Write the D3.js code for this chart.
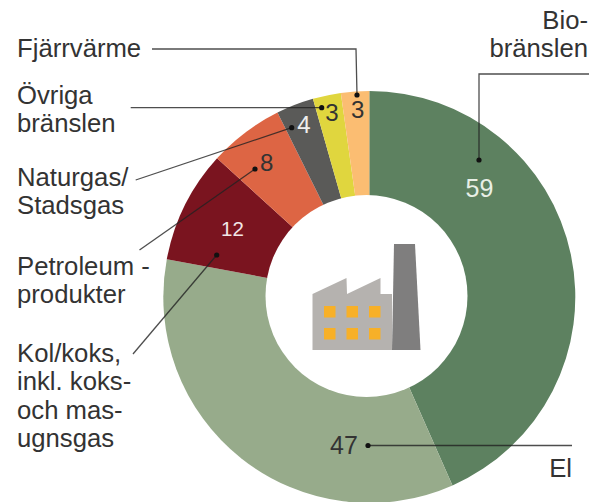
<!DOCTYPE html>
<html>
<head>
<meta charset="utf-8">
<script src="https://cdn.jsdelivr.net/npm/d3@7"></script>
<style>
  html, body { margin: 0; padding: 0; background: #fff; }
  text { font-family: "Liberation Sans", Arial, sans-serif; }
</style>
</head>
<body>
<div id="chart"></div>
<script>
// Values, clockwise from twelve o'clock
const categories = ["Biobränslen", "El", "Kol/koks", "Petroleumprodukter", "Naturgas/Stadsgas", "Övriga bränslen", "Fjärrvärme"];
const values = [59, 47, 12, 8, 4, 3, 3];
const sliceColors = ["#5d8160", "#97ab8b", "#7a141f", "#dd6544", "#5a5a58", "#e0d63e", "#fbbd72"];

// Category text blocks: lines and where they start
const labelLines = [
  { lines: ["Bio-", "bränslen"], x: 588, y: 29, anchor: "end" },
  { lines: ["El"], x: 572, y: 477, anchor: "end" },
  { lines: ["Kol/koks,", "inkl. koks-", "och mas-", "ugnsgas"], x: 17, y: 362, anchor: "start" },
  { lines: ["Petroleum -", "produkter"], x: 17, y: 275, anchor: "start" },
  { lines: ["Naturgas/", "Stadsgas"], x: 17, y: 186, anchor: "start" },
  { lines: ["Övriga", "bränslen"], x: 17, y: 104, anchor: "start" },
  { lines: ["Fjärrvärme"], x: 17, y: 57, anchor: "start" },
];

// Number labels on the ring
const valueLabels = [
  { x: 479.5, y: 197, fill: "#e8efe6", size: 25 },
  { x: 344, y: 454, fill: "#333", size: 25 },
  { x: 232.5, y: 236, fill: "#f2e6e6", size: 20.5 },
  { x: 266.7, y: 171, fill: "#333", size: 24 },
  { x: 304, y: 133, fill: "#eee", size: 24 },
  { x: 332, y: 121, fill: "#333", size: 24 },
  { x: 357.7, y: 118, fill: "#333", size: 24 },
];

// Leader lines, each ends on the dot
const leaders = [
  [[589, 74], [479, 74], [479, 160]],
  [[572, 445.5], [368, 445.5]],
  [[133, 354], [216.7, 255]],
  [[139.5, 250], [255, 169]],
  [[135.7, 180], [291.7, 127.7]],
  [[130.7, 107.7], [321.7, 107.7]],
  [[152, 49], [356, 49], [357, 95]],
];

const width = 593;
const height = 502;
const centerX = 369.3;
const centerY = 297;
const outerRadius = 206;
// the hole sits a little left of the ring's centre in the original
const holeX = 366.5;
const holeY = 296;
const holeRadius = 101;

const svg = d3
  .select("#chart")
  .append("svg")
  .attr("width", width)
  .attr("height", height)
  .style("display", "block");

// Donut
const pie = d3.pie().sort(null).value((d) => d);
const arc = d3.arc().innerRadius(0).outerRadius(outerRadius);

svg
  .append("g")
  .attr("transform", `translate(${centerX},${centerY})`)
  .selectAll("path")
  .data(pie(values))
  .enter()
  .append("path")
  .attr("d", arc)
  .attr("fill", (d, i) => sliceColors[i]);

svg
  .append("circle")
  .attr("cx", holeX)
  .attr("cy", holeY)
  .attr("r", holeRadius)
  .attr("fill", "#fff");

// Factory icon in the hole
const icon = svg.append("g").attr("transform", "translate(270,220)");
icon
  .append("path")
  .attr("d", "M42.5,74 L76.5,58 L77,74 L110.5,58 L110.5,74 L122,74 L122,130 L42.5,130 Z")
  .attr("fill", "#b5b2af");
icon
  .append("path")
  .attr("d", "M124,24 L145,24 L150.5,130 L122,130 Z")
  .attr("fill", "#7f7e7e");
const windowX = [54, 76.5, 99];
const windowY = [86, 108];
windowY.forEach((wy) => {
  windowX.forEach((wx) => {
    icon
      .append("rect")
      .attr("x", wx)
      .attr("y", wy)
      .attr("width", 11.5)
      .attr("height", 11.5)
      .attr("fill", "#f7b028");
  });
});

// Leader lines and dots
const line = d3.line();
svg
  .append("g")
  .selectAll("path")
  .data(leaders)
  .enter()
  .append("path")
  .attr("d", (d) => line(d))
  .attr("fill", "none")
  .attr("stroke", "#222")
  .attr("stroke-width", 1.3)
  .attr("stroke-opacity", 0.8);

svg
  .append("g")
  .selectAll("circle")
  .data(leaders)
  .enter()
  .append("circle")
  .attr("cx", (d) => d[d.length - 1][0])
  .attr("cy", (d) => d[d.length - 1][1])
  .attr("r", 2.6)
  .attr("fill", "#111");

// Numbers
svg
  .append("g")
  .selectAll("text")
  .data(values)
  .enter()
  .append("text")
  .attr("x", (d, i) => valueLabels[i].x)
  .attr("y", (d, i) => valueLabels[i].y)
  .attr("text-anchor", "middle")
  .attr("font-size", (d, i) => valueLabels[i].size)
  .attr("fill", (d, i) => valueLabels[i].fill)
  .text((d) => d);

// Category labels
const labels = svg
  .append("g")
  .selectAll("text")
  .data(labelLines)
  .enter()
  .append("text")
  .attr("text-anchor", (d) => d.anchor)
  .attr("font-size", 25.7)
  .attr("fill", "#333");

labels
  .selectAll("tspan")
  .data((d) => d.lines.map((t, i) => ({ t, x: d.x, y: d.y + i * 28.3 })))
  .enter()
  .append("tspan")
  .attr("x", (d) => d.x)
  .attr("y", (d) => d.y)
  .text((d) => d.t);
</script>
</body>
</html>
